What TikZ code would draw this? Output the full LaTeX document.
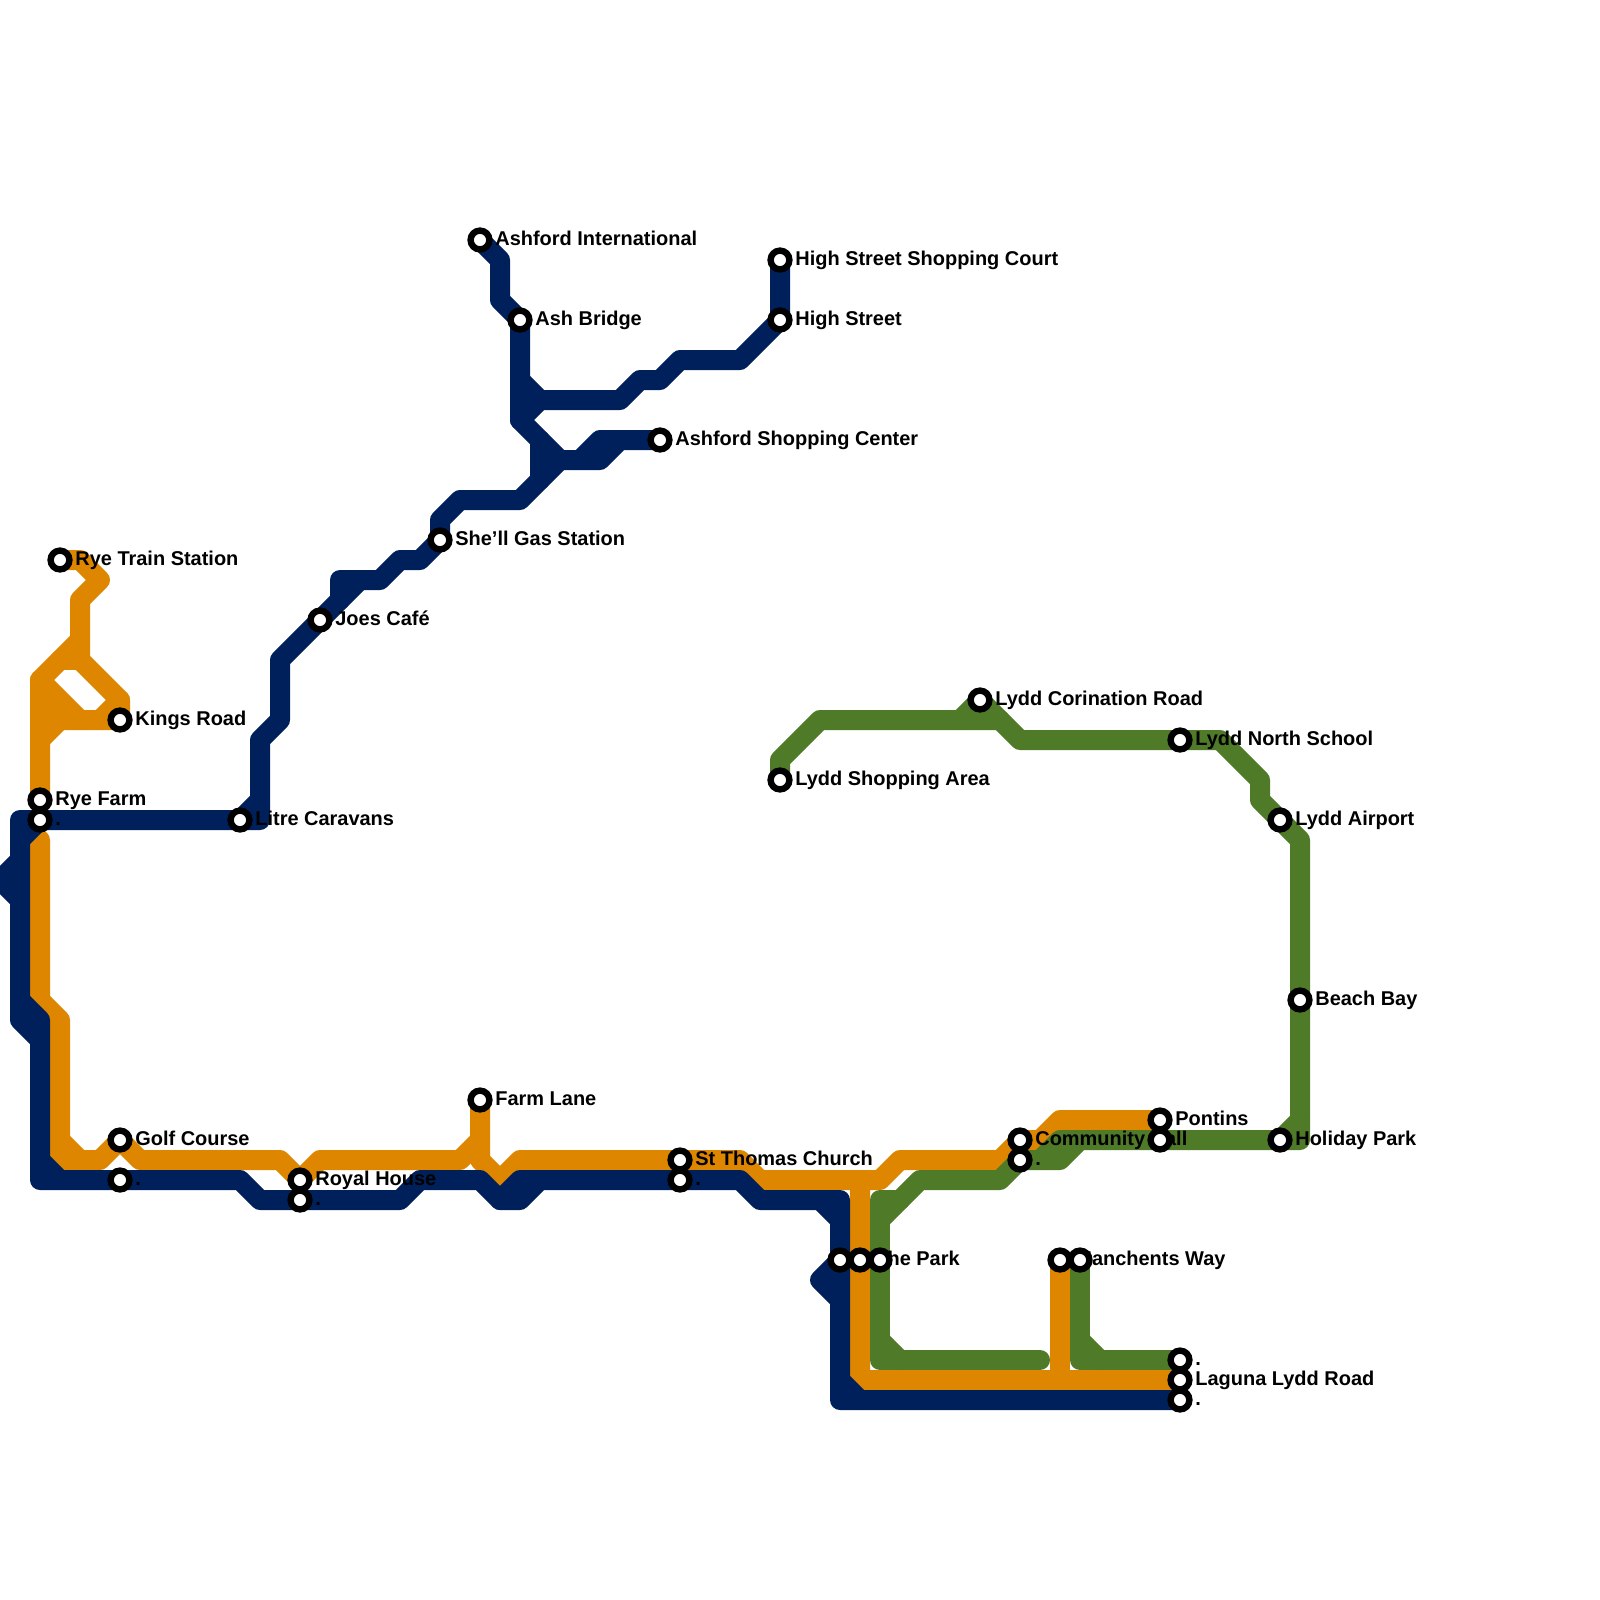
\documentclass[tikz,border=0pt]{standalone}
\usepackage{fontspec}
\setmainfont{Liberation Sans}
\definecolor{lineNavy}{HTML}{00205B}
\definecolor{lineOrange}{HTML}{DF8600}
\definecolor{lineGreen}{HTML}{4F7A28}

\begin{document}
\begin{tikzpicture}[
		x=0.25cm, y=-0.25cm,
		every node/.style={font=\fontsize{7.1}{8}\selectfont\bfseries},
		route/.style={line width=0.25cm, line cap=round, line join=round},
		navy/.style={route, draw=lineNavy},
		orange/.style={route, draw=lineOrange},
		green/.style={route, draw=lineGreen},
		stop/.style={circle, draw=black, fill=white, line width=0.08cm, minimum size=0.235cm, inner sep=0pt},
		stoptext/.style={anchor=base west, inner sep=0pt, xshift=0.185cm, yshift=-0.0625cm}
	]
		\useasboundingbox (0,0) rectangle (80,80);

		\coordinate (ryetrain) at (3,28);
		\coordinate (kingsroad) at (6,36);
		\coordinate (ryefarm) at (2,40);
		\coordinate (ryefarmb) at (2,41);
		\coordinate (litre) at (12,41);
		\coordinate (golf) at (6,57);
		\coordinate (golfb) at (6,59);
		\coordinate (royal) at (15,59);
		\coordinate (royalb) at (15,60);
		\coordinate (farmlane) at (24,55);
		\coordinate (thomas) at (34,58);
		\coordinate (thomasb) at (34,59);
		\coordinate (parka) at (42,63);
		\coordinate (park) at (43,63);
		\coordinate (parkb) at (44,63);
		\coordinate (manchents) at (53,63);
		\coordinate (manchentsb) at (54,63);
		\coordinate (lagunaa) at (59,68);
		\coordinate (laguna) at (59,69);
		\coordinate (lagunab) at (59,70);
		\coordinate (community) at (51,57);
		\coordinate (communityb) at (51,58);
		\coordinate (pontins) at (58,56);
		\coordinate (pontinsb) at (58,57);
		\coordinate (holiday) at (64,57);
		\coordinate (beach) at (65,50);
		\coordinate (airport) at (64,41);
		\coordinate (northschool) at (59,37);
		\coordinate (corination) at (49,35);
		\coordinate (shopping) at (39,39);
		\coordinate (highcourt) at (39,13);
		\coordinate (high) at (39,16);
		\coordinate (ashint) at (24,12);
		\coordinate (ashbridge) at (26,16);
		\coordinate (ashshop) at (33,22);
		\coordinate (shell) at (22,27);
		\coordinate (joes) at (16,31);

		\draw[orange] (ryetrain) -- (4,28) -- (5,29) -- (4,30) -- (4,33) -- (6,35) -- (kingsroad) -- (3,36) -- (2,37);
		\draw[orange] (4,32) -- (2,34) -- (ryefarm);
		\draw[orange] (2,34) -- (4,36);
		\draw[orange] (2,35) -- (3,36);
		\draw[orange] (2,36) -- (3,36);
		\draw[orange] (6,35) -- (5,36);
		\draw[orange] (4,33) -- (3,33);
		\draw[orange] (2,42) -- (2,50) -- (3,51) -- (3,57) -- (4,58) -- (5,58) -- (golf) -- (7,58) -- (14,58) -- (royal) -- (16,58) -- (23,58) -- (24,57) -- (farmlane);
		\draw[orange] (3,57) -- (3,58) -- (4,58);
		\draw[orange] (24,57) -- (24,58) -- (25,59) -- (26,58) -- (37,58) -- (38,59) -- (43,59) -- (43,69) -- (laguna);
		\draw[orange] (43,59) -- (44,59) -- (45,58) -- (50,58) -- (community) -- (52,57) -- (53,56) -- (pontins);
		\draw[orange] (manchents) -- (53,69);

		\draw[green] (shopping) -- (39,38) -- (41,36) -- (50,36);
		\draw[green] (48,36) -- (corination) -- (51,37) -- (61,37) -- (63,39) -- (63,40) -- (65,42) -- (65,57) -- (54,57) -- (53,58) -- (communityb) -- (50,59) -- (46,59) -- (44,61);
		\draw[green] (52,58) -- (53,57) -- (54,57);
		\draw[green] (65,56) -- (holiday);
		\draw[green] (45,60) -- (44,60) -- (44,68) -- (52,68);
		\draw[green] (44,67) -- (45,68);
		\draw[green] (manchentsb) -- (54,68) -- (lagunaa);
		\draw[green] (54,67) -- (55,68);

		\draw[navy] (ashint) -- (25,13) -- (25,15) -- (ashbridge) -- (26,21) -- (28,23) -- (30,23) -- (31,22) -- (ashshop) -- (30,22) -- (29,23);
		\draw[navy] (26,19) -- (27,20) -- (31,20) -- (32,19) -- (33,19) -- (34,18) -- (37,18) -- (high) -- (highcourt);
		\draw[navy] (27,20) -- (26,21);
		\draw[navy] (27,22) -- (27,24);
		\draw[navy] (28,23) -- (26,25) -- (23,25) -- (22,26) -- (shell) -- (21,28) -- (20,28) -- (19,29) -- (17,29) -- (17,30);
		\draw[navy] (18,29) -- (14,33) -- (14,36) -- (13,37) -- (13,41) -- (1,41) -- (1,51) -- (2,52) -- (2,59) -- (12,59) -- (13,60) -- (20,60) -- (21,59) -- (24,59) -- (25,60) -- (26,60) -- (27,59) -- (37,59) -- (38,60) -- (42,60) -- (42,70) -- (lagunab);
		\draw[navy] (13,40) -- (litre);
		\draw[navy] (ryefarmb) -- (1,42);
		\draw[navy] (1,43) -- (0,44) -- (1,45);
		\draw[navy] (1,50) -- (2,51) -- (2,52);
		\draw[navy] (2,58) -- (3,59);
		\draw[navy] (25,60) -- (26,59) -- (27,59);
		\draw[navy] (41,60) -- (42,61);
		\draw[navy] (parka) -- (41,64) -- (42,65);
		\draw[navy] (42,69) -- (43,70);

		\foreach \name/\words in {ryetrain/Rye Train Station, kingsroad/Kings Road, ryefarm/Rye Farm, ryefarmb/., litre/Litre Caravans, golf/Golf Course, golfb/., royal/Royal House, royalb/., farmlane/Farm Lane, thomas/St Thomas Church, thomasb/., park/The Park, manchents/Manchents Way, lagunaa/., laguna/Laguna Lydd Road, lagunab/., community/Community Hall, communityb/., pontins/Pontins, holiday/Holiday Park, beach/Beach Bay, airport/Lydd Airport, northschool/Lydd North School, corination/Lydd Corination Road, shopping/Lydd Shopping Area, highcourt/High Street Shopping Court, high/High Street, ashint/Ashford International, ashbridge/Ash Bridge, ashshop/Ashford Shopping Center, shell/She’ll Gas Station, joes/Joes Café}
			\node[stoptext] (\name text) at (\name) {\words};

		\foreach \name in {ryetrain, kingsroad, ryefarm, ryefarmb, litre, golf, golfb, royal, royalb, farmlane, thomas, thomasb, parka, park, parkb, manchents, manchentsb, lagunaa, laguna, lagunab, community, communityb, pontins, pontinsb, holiday, beach, airport, northschool, corination, shopping, highcourt, high, ashint, ashbridge, ashshop, shell, joes}
			\node[stop] (\name stop) at (\name) {};
	\end{tikzpicture}
\end{document}
